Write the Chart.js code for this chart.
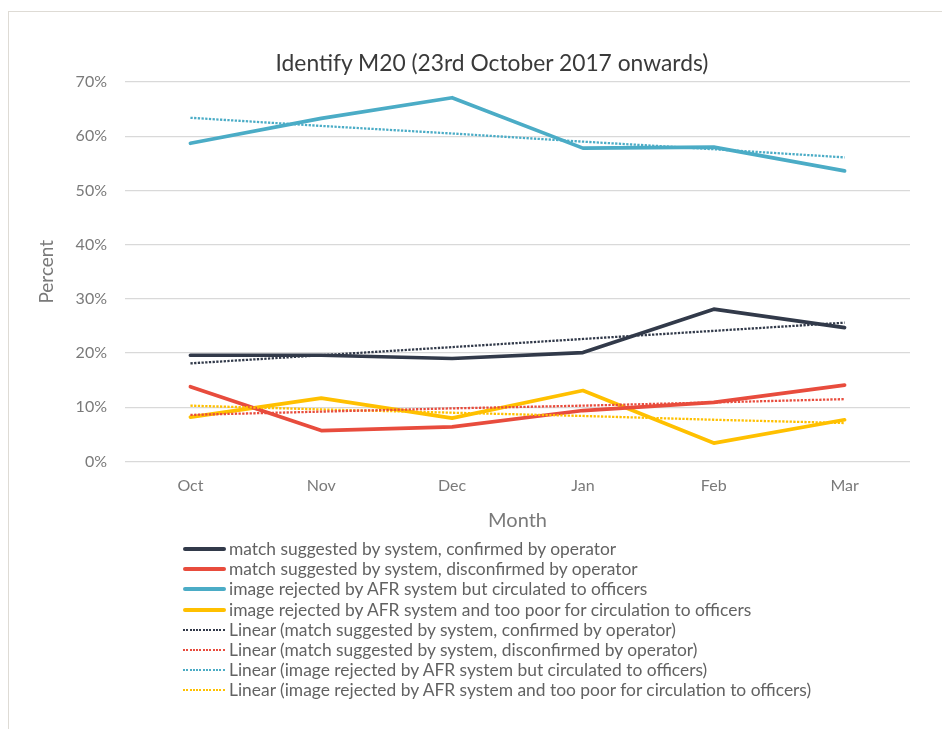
<!DOCTYPE html>
<html>
<head>
<meta charset="utf-8">
<script src="https://cdn.jsdelivr.net/npm/chart.js@4"></script>
<style>
  html, body { margin: 0; padding: 0; background: #fff; overflow: hidden; width: 942px; height: 729px; }
  #frame { position: absolute; left: 8px; top: 11px; width: 1000px; height: 800px; border: 1px solid #DEDBD5; box-sizing: border-box; }
  #wrap { position: absolute; left: 0; top: 0; width: 942px; height: 729px; }
  #title { position: absolute; left: 0; width: 984px; top: 47px; text-align: center; font-family: Lato, "Open Sans", sans-serif; font-size: 22.8px; color: #3a3a3a; line-height: 30px; white-space: nowrap; }
  .row { position: absolute; left: 183px; height: 20px; width: 700px; }
  .sample { position: absolute; left: 0; width: 43px; }
  .label { position: absolute; left: 46px; top: 0; font-family: Lato, "Open Sans", sans-serif; font-size: 17.4px; line-height: 20px; color: #626262; white-space: nowrap; }
</style>
</head>
<body>
<div id="frame"></div>
<div id="wrap"><canvas id="c"></canvas></div>
<div id="title">Identify M20 (23rd October 2017 onwards)</div>
<div id="legend"></div>
<script>
// ---- data (percent) ----
const months = ["Oct", "Nov", "Dec", "Jan", "Feb", "Mar"];
const confirmedByOperator = [19.6, 19.6, 19.0, 20.1, 28.1, 24.7];
const disconfirmedByOperator = [13.8, 5.7, 6.4, 9.4, 10.9, 14.1];
const rejectedButCirculated = [58.7, 63.3, 67.1, 57.8, 58.0, 53.6];
const rejectedTooPoor = [8.2, 11.7, 8.0, 13.1, 3.4, 7.7];
// trend lines
const trendConfirmed = [18.1, 19.6, 21.1, 22.6, 24.1, 25.6];
const trendDisconfirmed = [8.6, 9.2, 9.8, 10.3, 10.9, 11.5];
const trendCirculated = [63.4, 61.9, 60.5, 59.0, 57.6, 56.1];
const trendTooPoor = [10.3, 9.6, 9.0, 8.4, 7.7, 7.1];
const yTicks = [0, 10, 20, 30, 40, 50, 60, 70];

const seriesNames = [
  "match suggested by system, confirmed by operator",
  "match suggested by system, disconfirmed by operator",
  "image rejected by AFR system but circulated to officers",
  "image rejected by AFR system and too poor for circulation to officers"
];
const colors = ["#323A4A", "#E84C3D", "#4BACC6", "#FFC000"];
const seriesData = [confirmedByOperator, disconfirmedByOperator, rejectedButCirculated, rejectedTooPoor];
const trendData = [trendConfirmed, trendDisconfirmed, trendCirculated, trendTooPoor];

const datasets = [];
seriesData.forEach((d, i) => {
  datasets.push({
    label: seriesNames[i], data: d, borderColor: colors[i], backgroundColor: colors[i],
    borderWidth: 3.7, pointRadius: 0, tension: 0, order: 2, borderCapStyle: 'round', borderJoinStyle: 'round'
  });
});
trendData.forEach((d, i) => {
  datasets.push({
    label: "Linear (" + seriesNames[i] + ")", data: d, borderColor: colors[i], backgroundColor: colors[i],
    borderWidth: 2.3, borderDash: [2.3, 1.4], pointRadius: 0, tension: 0, order: 1
  });
});

const FONT = "Lato, 'Open Sans', sans-serif";

new Chart(document.getElementById('c'), {
  type: 'line',
  data: { labels: months, datasets },
  options: {
    responsive: true, maintainAspectRatio: false, animation: false,
    devicePixelRatio: 1,
    layout: { padding: { top: 82, left: 0, right: 32, bottom: 188.5 } },
    plugins: { legend: { display: false }, title: { display: false }, tooltip: { enabled: false } },
    scales: {
      x: {
        type: 'category', offset: true,
        grid: { display: false, drawTicks: false },
        border: { display: false },
        ticks: { color: '#7a7a7a', font: { family: FONT, size: 16 }, padding: 15 },
        title: { display: true, text: 'Month', color: '#7a7a7a', font: { family: FONT, size: 20 }, padding: { top: 0, bottom: 7.5 } },
        afterFit: (s) => { s.height = 79; }
      },
      y: {
        min: 0, max: 70,
        afterBuildTicks: (s) => { s.ticks = yTicks.map(v => ({ value: v })); },
        grid: { color: '#D9D9D9', lineWidth: 1.3, drawTicks: false },
        border: { display: false },
        ticks: { color: '#7a7a7a', font: { family: FONT, size: 16 }, padding: 18, callback: (v) => v + '%' },
        title: { display: true, text: 'Percent', color: '#7a7a7a', font: { family: FONT, size: 19 }, padding: { top: 35.6, bottom: 0 } },
        afterFit: (s) => { s.width = 125; }
      }
    }
  }
});

// legend (HTML)
const legend = document.getElementById('legend');
const legendItems = [];
seriesNames.forEach((n, i) => legendItems.push({ text: n, color: colors[i], dotted: false }));
seriesNames.forEach((n, i) => legendItems.push({ text: "Linear (" + n + ")", color: colors[i], dotted: true }));
legendItems.forEach((it, i) => {
  const row = document.createElement('div');
  row.className = 'row';
  row.style.top = (539 + i * 20.2) + 'px';
  const s = document.createElement('div');
  s.className = 'sample';
  if (it.dotted) {
    s.style.top = '9px'; s.style.height = '2px';
    s.style.background = 'repeating-linear-gradient(to right, ' + it.color + ' 0 2px, transparent 2px 3.3px)';
  } else {
    s.style.top = '8px'; s.style.height = '4px'; s.style.borderRadius = '2px';
    s.style.background = it.color;
  }
  const l = document.createElement('div');
  l.className = 'label';
  l.textContent = it.text;
  row.appendChild(s); row.appendChild(l);
  legend.appendChild(row);
});
</script>
</body>
</html>
